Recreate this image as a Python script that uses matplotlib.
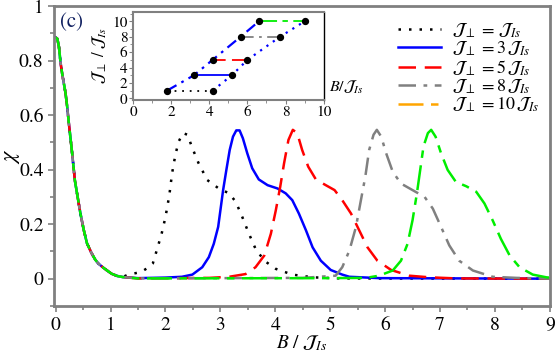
"""Susceptibility chi vs field for several interchain couplings, panel (c)."""

import matplotlib
matplotlib.use("Agg")
import matplotlib.pyplot as plt
import numpy as np
from matplotlib.lines import Line2D
from matplotlib.ticker import MultipleLocator

plt.rcParams["font.family"] = ["STIXGeneral", "DejaVu Serif"]
plt.rcParams["mathtext.fontset"] = "stix"

# common low-field decay shared by every curve
b_low = [0.0, 0.03, 0.06, 0.09, 0.12, 0.15, 0.18, 0.21, 0.24, 0.27, 0.30, 0.35,
         0.40, 0.45, 0.51, 0.57, 0.65, 0.72, 0.78, 0.87, 0.95, 1.02, 1.12, 1.22]
chi_low = [0.885, 0.88, 0.85, 0.79, 0.75, 0.715, 0.68, 0.63, 0.57, 0.515, 0.46, 0.36,
           0.30, 0.24, 0.18, 0.13, 0.095, 0.07, 0.055, 0.04, 0.028, 0.018, 0.010, 0.006]

# J_perp = J_Is
b_j1 = [1.32, 1.55, 1.68, 1.77, 1.85, 1.93, 2.00, 2.07, 2.12, 2.18, 2.24, 2.32,
        2.40, 2.49, 2.60, 2.76, 2.97, 3.16, 3.28, 3.40, 3.52, 3.64, 3.80, 4.01,
        4.31, 4.68, 5.2, 9.0]
chi_j1 = [0.015, 0.024, 0.04, 0.056, 0.11, 0.165, 0.226, 0.306, 0.386, 0.454, 0.503, 0.534,
          0.528, 0.479, 0.425, 0.362, 0.331, 0.313, 0.282, 0.226, 0.165, 0.11, 0.066, 0.036,
          0.015, 0.005, 0.001, 0.0]

# J_perp = 3 J_Is
b_j3 = [1.5, 2.0, 2.30, 2.49, 2.67, 2.79, 2.88, 2.96, 3.00, 3.05, 3.11, 3.17,
        3.23, 3.29, 3.35, 3.41, 3.49, 3.58, 3.70, 3.86, 4.04, 4.19, 4.31, 4.43,
        4.56, 4.68, 4.83, 5.01, 5.22, 5.35, 5.9, 9.0]
chi_j3 = [0.002, 0.004, 0.007, 0.015, 0.042, 0.079, 0.128, 0.19, 0.25, 0.325, 0.40, 0.472,
          0.521, 0.544, 0.544, 0.515, 0.46, 0.405, 0.364, 0.343, 0.331, 0.313, 0.288, 0.239,
          0.177, 0.115, 0.066, 0.032, 0.015, 0.007, 0.002, 0.0]

# J_perp = 5 J_Is
b_j5 = [1.5, 2.8, 3.16, 3.46, 3.64, 3.80, 3.92, 4.01, 4.09, 4.16, 4.24, 4.32,
        4.40, 4.49, 4.60, 4.74, 4.92, 5.08, 5.22, 5.38, 5.53, 5.68, 5.86, 6.11,
        6.44, 6.81, 7.3, 9.0]
chi_j5 = [0.001, 0.003, 0.007, 0.017, 0.042, 0.085, 0.165, 0.251, 0.337, 0.423, 0.509, 0.546,
          0.534, 0.472, 0.411, 0.364, 0.343, 0.325, 0.288, 0.239, 0.177, 0.115, 0.066, 0.032,
          0.011, 0.005, 0.001, 0.0]

# J_perp = 8 J_Is
b_j8 = [1.5, 4.5, 5.10, 5.22, 5.35, 5.47, 5.56, 5.64, 5.71, 5.79, 5.85, 5.93,
        6.02, 6.14, 6.29, 6.50, 6.72, 6.87, 7.02, 7.17, 7.35, 7.60, 7.96, 8.39,
        9.0]
chi_j8 = [0.001, 0.003, 0.011, 0.042, 0.103, 0.19, 0.288, 0.374, 0.472, 0.528, 0.546, 0.521,
          0.46, 0.392, 0.349, 0.325, 0.30, 0.257, 0.19, 0.122, 0.066, 0.03, 0.007, 0.003,
          0.0]

# J_perp = 10 J_Is
b_j10 = [1.5, 5.0, 5.65, 5.89, 6.14, 6.29, 6.41, 6.50, 6.58, 6.64, 6.70, 6.78,
         6.84, 6.92, 7.02, 7.14, 7.29, 7.48, 7.66, 7.81, 7.96, 8.11, 8.27, 8.45,
         8.69, 8.94, 9.0]
chi_j10 = [0.001, 0.002, 0.003, 0.011, 0.03, 0.066, 0.128, 0.214, 0.313, 0.399, 0.485, 0.534,
           0.546, 0.521, 0.46, 0.399, 0.355, 0.339, 0.319, 0.276, 0.214, 0.146, 0.085, 0.042,
           0.015, 0.005, 0.004]

# inset: critical fields B_c1 (left) and B_c2 (right) vs J_perp
j_perp = [1, 3, 5, 8, 10]
bc_left = [1.77, 3.19, 4.17, 5.64, 6.6]
bc_right = [4.17, 5.18, 6.0, 7.71, 9.0]

labels = [r"$\mathcal{J}_{\perp}\,=\,\mathcal{J}_{Is}$",
          r"$\mathcal{J}_{\perp}\,=3\,\mathcal{J}_{Is}$",
          r"$\mathcal{J}_{\perp}\,=5\,\mathcal{J}_{Is}$",
          r"$\mathcal{J}_{\perp}\,=8\,\mathcal{J}_{Is}$",
          r"$\mathcal{J}_{\perp}\,=10\,\mathcal{J}_{Is}$"]

GRAY = "#808080"
styles = [
    dict(color="black", linestyle=(0, (1, 3.2)), linewidth=1.8),
    dict(color="blue", linestyle="-", linewidth=1.8),
    dict(color="red", linestyle=(0, (7, 3.5)), linewidth=1.8),
    dict(color=GRAY, linestyle=(0, (7, 3, 1.5, 3)), linewidth=1.8),
    dict(color="#00ee00", linestyle=(0, (10, 3, 3, 3)), linewidth=1.8),
]
curves = [(b_j1, chi_j1), (b_j3, chi_j3), (b_j5, chi_j5), (b_j8, chi_j8), (b_j10, chi_j10)]

fig = plt.figure(figsize=(5.57, 3.57), dpi=100)
ax = fig.add_axes([0.097, 0.143, 0.890, 0.840])

for (bx, cy), st in zip(curves, styles):
    x = np.concatenate([b_low, bx])
    y = np.concatenate([chi_low, cy])
    ax.plot(x, y, solid_joinstyle="round", dash_joinstyle="round", **st)

ax.set_xlim(-0.03, 9)
ax.set_ylim(-0.1, 1.0)
ax.xaxis.set_major_locator(MultipleLocator(1))
ax.xaxis.set_minor_locator(MultipleLocator(0.5))
ax.yaxis.set_minor_locator(MultipleLocator(0.1))
ax.set_yticks([0, 0.2, 0.4, 0.6, 0.8, 1.0])
ax.set_yticklabels(["0", "0.2", "0.4", "0.6", "0.8", "1"])
ax.tick_params(which="both", direction="out", color=GRAY, labelsize=14, width=1.2)
ax.tick_params(which="major", length=4)
ax.tick_params(which="minor", length=3)
for sp in ax.spines.values():
    sp.set_color(GRAY)
    sp.set_linewidth(2)
ax.set_xlabel(r"$B\ /\ \mathcal{J}_{Is}$", fontsize=14, labelpad=0)
ax.set_ylabel(r"$\chi$", fontsize=16, rotation=90, va="center", ha="center")
ax.yaxis.set_label_coords(-0.085, 0.5)
ax.text(0.08, 0.975, "(c)", fontsize=15, color="#102060", va="top", ha="left")

# legend: the J=10 entry is drawn orange in the original
handles = [Line2D([], [], **st) for st in styles[:4]]
handles.append(Line2D([], [], color="orange", linestyle=(0, (10, 3, 3, 3)), linewidth=1.8))
ax.legend(handles, labels, loc="upper right", frameon=False, fontsize=13,
          handlelength=2.4, handletextpad=0.6, labelspacing=0.0,
          bbox_to_anchor=(1.0, 0.985), borderaxespad=0.2)

# inset
ins = fig.add_axes([0.239, 0.72, 0.342, 0.246])
ins.plot(bc_left, j_perp, color="blue", linestyle=(0, (5, 2.5, 1.2, 2.5)), linewidth=1.6)
ins.plot(bc_right, j_perp, color="blue", linestyle=(0, (1, 2.5)), linewidth=1.6)
for jp, bl, br, st in zip(j_perp, bc_left, bc_right, styles):
    ins.plot([bl, br], [jp, jp], color=st["color"], linestyle=st["linestyle"], linewidth=1.3)
ins.scatter(bc_left + bc_right, j_perp + j_perp, s=18, color="black", zorder=5)
ins.set_xlim(0, 10)
ins.set_ylim(-0.2, 11.2)
ins.xaxis.set_major_locator(MultipleLocator(2))
ins.xaxis.set_minor_locator(MultipleLocator(1))
ins.yaxis.set_major_locator(MultipleLocator(2))
ins.yaxis.set_minor_locator(MultipleLocator(1))
ins.tick_params(which="both", direction="out", color=GRAY, labelsize=11, pad=1)
ins.tick_params(which="major", length=3)
ins.tick_params(which="minor", length=2)
for sp in ins.spines.values():
    sp.set_color(GRAY)
    sp.set_linewidth(1.5)
ins.spines["right"].set_color("black")
ins.spines["right"].set_linewidth(1.0)
ins.set_ylabel(r"$\mathcal{J}_{\perp}\ /\ \mathcal{J}_{Is}$", fontsize=12, labelpad=2)
ins.text(1.03, 0.05, r"$B/\mathcal{J}_{Is}$", transform=ins.transAxes, fontsize=11.5,
         ha="left", va="bottom")

fig.savefig("out.png", dpi=100)
